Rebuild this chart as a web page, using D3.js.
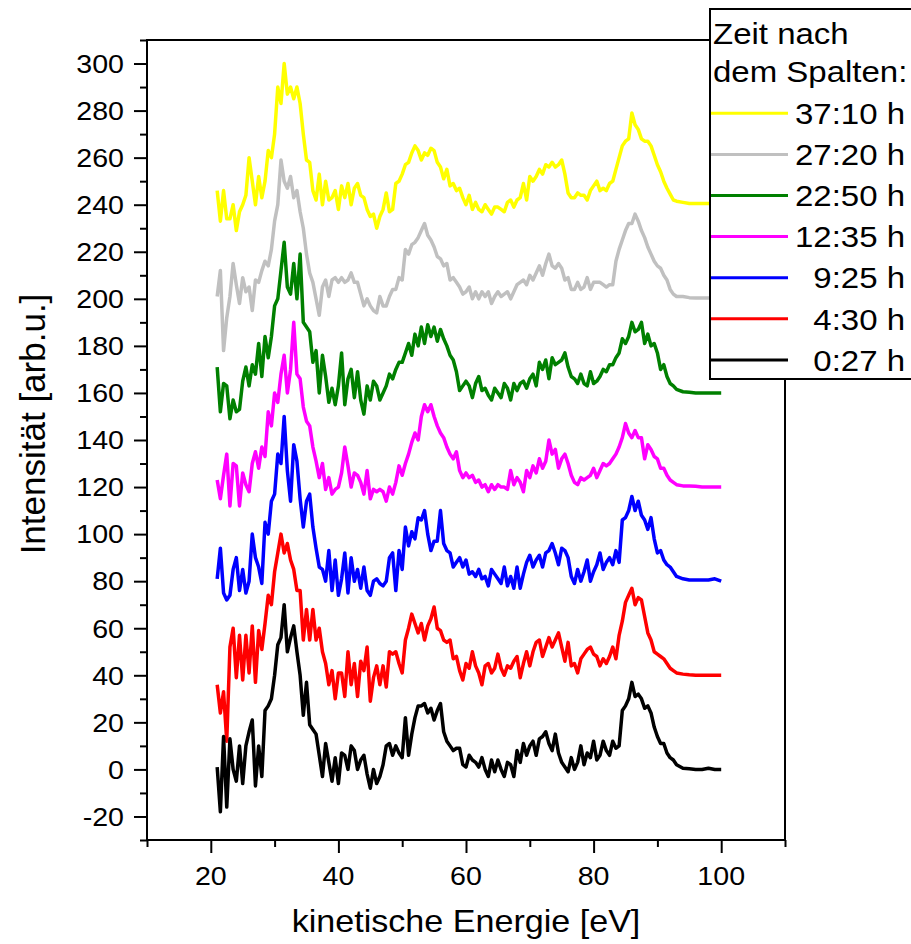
<!DOCTYPE html>
<html><head><meta charset="utf-8">
<script src="https://cdn.jsdelivr.net/npm/d3@7"></script>
<style>body{margin:0;background:#fff} svg{display:block} text{font-family:"Liberation Sans",Arial,sans-serif;fill:#000}</style>
</head><body><svg id="c" width="911" height="944"></svg>
<script>
const energy = [21,21.5,22,22.5,23,23.5,24,24.5,25,25.5,26,26.5,27,27.5,28,28.5,29,29.5,30,30.5,31,31.5,32,32.5,33,33.5,34,34.5,35,35.5,36,36.5,37,37.5,38,38.5,39,39.5,40,40.5,41,41.5,42,42.5,43,43.5,44,44.5,45,45.5,46,46.5,47,47.5,48,48.5,49,49.5,50,50.5,51,51.5,52,52.5,53,53.5,54,54.5,55,55.5,56,56.5,57,57.5,58,58.5,59,59.5,60,60.5,61,61.5,62,62.5,63,63.5,64,64.5,65,65.5,66,66.5,67,67.5,68,68.5,69,69.5,70,70.5,71,71.5,72,72.5,73,73.5,74,74.5,75,75.5,76,76.5,77,77.5,78,78.5,79,79.5,80,80.5,81,81.5,82,82.5,83,83.5,84,84.5,85,85.5,86,86.5,87,87.5,88,88.5,89,89.5,90,90.5,91,91.5,92,92.5,93,94,95,96,97,98,99,100];

const s0027 = [1,-18,14,-16,13,0,-5,10,-6,10,
16,21,-7,10,-3,25,27,30,40,53,
56,70,50,56,61,50,40,23,37,19,
17,15,6,-3,11,3,-5,5,-6,7,
6,0,10,8,0,4,6,-2,-8,0,
-6,-3,2,10,11,6,10,7,5,22,
6,15,22,27,27,28,24,26,21,25,
28,16,12,10,8,9,
9,2,1,6,4,3,1,5,0,-3,
4,-1,4,0,-3,3,2,-3,8,3,
11,6,10,12,6,13,14,16,11,8,
15,7,3,1,-1,5,0,3,10,2,
7,5,12,4,6,12,8,6,12,9,
10,25,27,30,37,31,32,30,26,27,
24,18,14,11,11,7,5,4,2,
0.5,0.3,0,0,0.5,0,0];

const s0430 = [36,24,33,12,52,60,39,57,38,57,
41,61,37,59,51,62,74,70,84,92,
100,92,96,89,85,76,76,55,68,55,
68,55,60,50,45,36,42,30,41,41,
31,50,36,45,31,46,42,52,29,39,
44,36,44,35,50,49,50,45,41,55,
60,66,62,58,62,55,61,64,69,60,
59,55,54,55,47,48,
42,38,45,43,50,44,41,36,44,45,
41,43,49,43,40,44,43,46,48,39,
45,50,44,50,54,55,48,52,56,52,
55,58,52,46,54,44,45,41,47,49,
51,52,49,48,44,47,45,48,52,47,
57,63,71,74,77,70,73,72,65,58,
55,50,49,48,47,45,43,42,41,
40.5,40.2,40,40,40,40,40];

const s0925 = [81,94,75,72,74,85,90,76,85,75,
80,100,90,86,79,105,100,114,117,134,
130,150,127,114,138,131,115,103,114,117,
103,94,86,85,80,93,76,89,74,81,
92,75,90,80,85,77,86,76,74,80,
81,79,78,80,90,92,76,93,85,103,
95,101,98,107,106,110,100,93,97,97,
110,96,93,92,86,88,
90,86,89,83,84,82,85,81,82,78,
85,83,81,79,86,78,82,77,86,77,
83,88,91,86,89,91,86,92,93,96,
92,87,94,93,90,82,79,85,80,84,
89,80,84,87,92,85,88,90,87,93,
88,106,107,110,116,110,114,108,106,102,
107,98,92,93,89,87,86,84,82,
81,80.5,80.5,80.5,80.5,81,80];

const s1235 = [123,115,125,134,112,130,129,112,126,121,
118,130,135,128,137,133,152,146,160,156,
168,176,160,170,190,168,166,154,148,146,
137,131,124,130,119,124,117,119,120,126,
137,129,120,126,125,122,117,127,115,119,
118,119,118,114,120,117,122,129,125,130,
134,139,143,140,150,155,152,155,150,146,
143,141,137,134,132,135,127,124,
126,124,125,122,123,120,121,118,121,119,
121,120,120,119,127,121,124,122,118,127,
124,129,126,132,128,131,140,134,136,128,
132,134,130,125,122,121,124,123,124,125,
128,124,127,130,129,130,132,134,137,141,
147,143,141,144,141,141,132,138,136,133,
132,128,128,125,123,122,121,
120.5,120.5,120.3,120,120,120,120];

const s2250 = [171,152,164,163,149,157,152,153,165,171,
163,172,168,181,167,184,175,184,197,200,
212,224,205,202,215,200,219,190,188,186,
173,178,160,176,167,156,162,155,163,177,
155,166,170,158,169,157,151,163,157,165,
163,157,160,163,168,166,170,173,173,177,
181,176,185,180,188,181,189,184,188,182,
187,183,180,176,174,169,161,163,
165,163,158,164,167,161,162,159,157,162,
160,158,164,162,157,164,161,164,165,162,
166,168,163,173,170,174,166,175,172,173,
174,177,171,167,166,164,168,164,163,169,
164,165,167,170,169,172,172,175,177,183,
181,184,190,186,187,190,181,185,180,181,
177,170,172,167,164,163,161.5,
160.5,160.3,160,160,160,160,160];

const s2720 = [201,212,178,192,201,215,206,198,209,203,
205,195,208,207,212,216,214,221,233,240,
259,250,247,252,243,246,237,230,219,211,
207,200,193,205,208,201,208,209,207,209,
207,208,211,207,207,202,197,200,197,195,
194,201,197,197,201,204,204,209,208,221,
219,223,224,226,229,232,227,225,222,218,
217,214,215,208,209,207,205,202,
203,205,200,203,200,203,201,203,198,201,
203,201,202,203,200,203,206,207,208,206,
210,208,211,214,210,215,219,214,213,215,
213,208,209,204,204,207,204,205,209,204,
207,207,207,206,205,206,206,216,221,225,
229,232,232,236,233,229,226,222,219,216,
214,213,210,208,204,202,201,
201,200.5,200.3,200.3,200.3,200.3,200.3];

const s3710 = [246,233,246,234,234,240,229,237,240,244,
260,250,240,252,243,250,263,260,270,290,
283,300,287,290,285,290,283,270,259,258,
246,242,253,240,250,242,243,246,238,248,
243,249,240,247,249,244,243,238,235,236,
230,235,238,245,237,238,249,250,253,257,
258,262,265,263,259,262,261,264,263,258,
256,251,255,248,249,246,247,243,
240,244,238,241,238,237,240,238,236,239,
239,238,237,241,242,239,242,243,249,242,
252,250,252,255,253,257,256,258,256,257,
259,253,245,243,243,245,244,244,242,246,
248,250,246,247,246,249,250,255,260,265,
267,268,279,274,272,268,267,267,265,261,
257,254,250,247,244.5,242,241.5,
241,240.5,240.5,240.5,240.5,240.5,240.5];

const seriesNames = ["37:10 h","27:20 h","22:50 h","12:35 h","9:25 h","4:30 h","0:27 h"];
const seriesColors = ["#ffff00","#c0c0c0","#008000","#ff00ff","#0000ff","#ff0000","#000000"];
const seriesValues = [s3710, s2720, s2250, s1235, s0925, s0430, s0027];
const legendTitle = ["Zeit nach", "dem Spalten:"];
const xMajorTicks = [20,40,60,80,100];
const xMinorTicks = [10,30,50,70,90,110];
const yMajorTicks = [-20,0,20,40,60,80,100,120,140,160,180,200,220,240,260,280,300];
const yMinorTicks = [-30,-10,10,30,50,70,90,110,130,150,170,190,210,230,250,270,290,310];
const xTitle = "kinetische Energie [eV]";
const yTitle = "Intensität [arb.u.]";

const svg = d3.select("#c");
const L = 147, R = 785, T = 40, B = 840;
const x = d3.scaleLinear().domain([10,110]).range([L,R]);
const y = d3.scaleLinear().domain([-30,310]).range([B,T]);
const SX = 1.1;

// series
const line = d3.line().x(d => x(d[0])).y(d => y(d[1]));
seriesValues.forEach((vals, i) => {
  svg.append("path")
    .datum(energy.map((e, j) => [e, vals[j]]))
    .attr("d", line)
    .attr("fill", "none")
    .attr("stroke", seriesColors[i])
    .attr("stroke-width", 3.5)
    .attr("stroke-linejoin", "round");
});

// axes
const ax = svg.append("g");
ax.append("g").attr("transform", `translate(0,${B})`)
  .call(d3.axisBottom(x).tickValues(xMajorTicks).tickSize(13).tickSizeOuter(0).tickFormat(""))
  .call(g => { g.select(".domain").remove(); g.selectAll("line").attr("stroke-width", 2); });
ax.append("g").attr("transform", `translate(0,${B})`)
  .call(d3.axisBottom(x).tickValues(xMinorTicks).tickSize(7).tickSizeOuter(0).tickFormat(""))
  .call(g => { g.select(".domain").remove(); g.selectAll("line").attr("stroke-width", 2); });
ax.append("g").attr("transform", `translate(${L},0)`)
  .call(d3.axisLeft(y).tickValues(yMajorTicks).tickSize(13).tickSizeOuter(0).tickFormat(""))
  .call(g => { g.select(".domain").remove(); g.selectAll("line").attr("stroke-width", 2); });
ax.append("g").attr("transform", `translate(${L},0)`)
  .call(d3.axisLeft(y).tickValues(yMinorTicks).tickSize(7).tickSizeOuter(0).tickFormat(""))
  .call(g => { g.select(".domain").remove(); g.selectAll("line").attr("stroke-width", 2); });
svg.append("rect").attr("x", L).attr("y", T).attr("width", R - L).attr("height", B - T)
  .attr("fill", "none").attr("stroke", "#000").attr("stroke-width", 2);

// tick labels
const tfs = 26;
xMajorTicks.forEach(v => {
  svg.append("text").attr("transform", `translate(${x(v)},885) scale(${SX},1)`)
    .attr("text-anchor", "middle").attr("font-size", tfs).text(v);
});
yMajorTicks.forEach(v => {
  svg.append("text").attr("transform", `translate(124,${y(v) + 0.358 * tfs}) scale(${SX},1)`)
    .attr("text-anchor", "end").attr("font-size", tfs).text(v);
});

// axis titles
svg.append("text").attr("transform", `translate(${(L + R) / 2},932) scale(${SX},1)`)
  .attr("text-anchor", "middle").attr("font-size", 31).text(xTitle);
svg.append("text").attr("transform", `translate(45,424) rotate(-90)`)
  .attr("text-anchor", "middle").attr("font-size", 35).text(yTitle);

// legend
const lg = svg.append("g");
lg.append("rect").attr("x", 710).attr("y", 9).attr("width", 215).attr("height", 370)
  .attr("fill", "#fff").attr("stroke", "#000").attr("stroke-width", 2);
legendTitle.forEach((t, i) => {
  lg.append("text").attr("transform", `translate(713,${43.5 + i * 38.5}) scale(${SX},1)`)
    .attr("font-size", 30).text(t);
});
seriesNames.forEach((n, i) => {
  const yy = 113.3 + i * 41.1;
  lg.append("line").attr("x1", 711).attr("x2", 788).attr("y1", yy).attr("y2", yy)
    .attr("stroke", seriesColors[i]).attr("stroke-width", 3);
  lg.append("text").attr("transform", `translate(905,${yy + 0.358 * 30}) scale(${SX},1)`)
    .attr("text-anchor", "end").attr("font-size", 30).text(n);
});
</script></body></html>
